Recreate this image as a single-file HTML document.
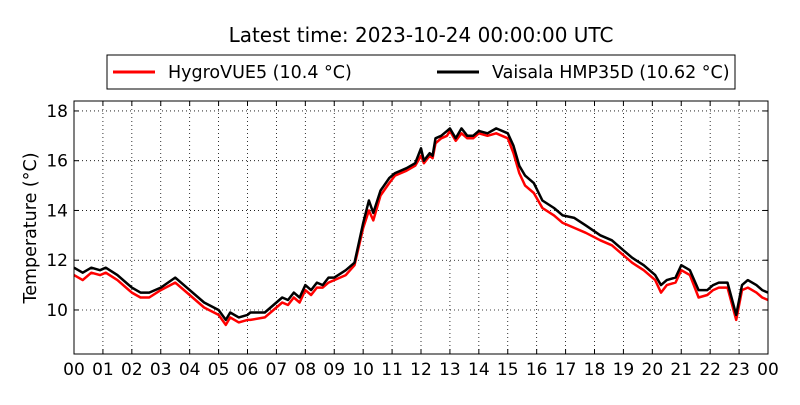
<!DOCTYPE html>
<html><head><meta charset="utf-8"><style>
body{margin:0;background:#fff;}
svg{font-family:"DejaVu Sans","Liberation Sans",sans-serif;}
</style></head><body>
<svg id="chart" width="800" height="400" viewBox="0 0 800 400" xmlns="http://www.w3.org/2000/svg">
<rect width="800" height="400" fill="#fff"/>
<text x="421" y="42" font-size="20" text-anchor="middle">Latest time: 2023-10-24 00:00:00 UTC</text>
<g>
<rect x="107" y="55" width="628" height="34" fill="#fff" stroke="#000" stroke-width="1"/>
<g>
<line x1="113" y1="72" x2="155" y2="72" stroke="#f00" stroke-width="3"/>
<text x="168" y="78" font-size="17.5">HygroVUE5 (10.4 °C)</text>
</g>
<g>
<line x1="437" y1="72" x2="479" y2="72" stroke="#000" stroke-width="3"/>
<text x="492" y="78" font-size="17.5">Vaisala HMP35D (10.62 °C)</text>
</g>
</g>
<text transform="translate(36,228) rotate(-90)" font-size="17.5" text-anchor="middle">Temperature (°C)</text>
<g id="grid"></g>
<g id="series"></g>
<rect x="74" y="101" width="694" height="253" fill="none" stroke="#000" stroke-width="1"/>
<g id="axes"></g>
</svg>
<script>
const times = [0,0.3,0.6,0.9,1.1,1.5,2.0,2.3,2.6,3.0,3.5,4.0,4.5,5.0,5.25,5.4,5.7,6.0,6.1,6.6,7.0,7.2,7.4,7.6,7.8,8.0,8.2,8.4,8.6,8.8,9.0,9.4,9.7,10.0,10.2,10.35,10.6,10.9,11.1,11.5,11.8,12.0,12.1,12.3,12.4,12.5,12.7,12.9,13.0,13.2,13.4,13.6,13.8,14.0,14.3,14.6,15.0,15.2,15.4,15.6,15.9,16.2,16.6,16.9,17.3,17.7,18.2,18.6,19.0,19.3,19.7,20.1,20.3,20.5,20.8,21.0,21.3,21.6,21.9,22.1,22.3,22.6,22.9,23.1,23.3,23.6,23.8,24.0];
const vaisala = [11.7,11.5,11.7,11.6,11.7,11.4,10.9,10.7,10.7,10.9,11.3,10.8,10.3,10.0,9.6,9.9,9.7,9.8,9.9,9.9,10.3,10.5,10.4,10.7,10.5,11.0,10.8,11.1,11.0,11.3,11.3,11.6,11.9,13.5,14.4,13.9,14.8,15.3,15.5,15.7,15.9,16.5,16.0,16.3,16.2,16.9,17.0,17.2,17.3,16.9,17.3,17.0,17.0,17.2,17.1,17.3,17.1,16.6,15.8,15.4,15.1,14.4,14.1,13.8,13.7,13.4,13.0,12.8,12.4,12.1,11.8,11.4,11.0,11.2,11.3,11.8,11.6,10.8,10.8,11.0,11.1,11.1,9.8,11.0,11.2,11.0,10.8,10.7];
const hygro = [11.4,11.2,11.5,11.4,11.5,11.2,10.7,10.5,10.5,10.8,11.1,10.6,10.1,9.8,9.4,9.7,9.5,9.6,9.6,9.7,10.1,10.3,10.2,10.5,10.3,10.8,10.6,10.9,10.9,11.1,11.2,11.4,11.8,13.3,14.0,13.6,14.6,15.1,15.4,15.6,15.8,16.2,15.9,16.2,16.1,16.7,16.9,17.0,17.2,16.8,17.1,16.9,16.9,17.1,17.0,17.1,16.9,16.3,15.5,15.0,14.7,14.1,13.8,13.5,13.3,13.1,12.8,12.6,12.2,11.9,11.6,11.2,10.7,11.0,11.1,11.6,11.4,10.5,10.6,10.8,10.9,10.9,9.6,10.8,10.9,10.7,10.5,10.4];
const yTicks = [10,12,14,16,18];
const xTickLabels = ["00","01","02","03","04","05","06","07","08","09","10","11","12","13","14","15","16","17","18","19","20","21","22","23","00"];

const X0=74,X1=768,Y0=101,Y1=354,YMIN=8.23,YMAX=18.4;
const xs = h => X0 + (h/24)*(X1-X0);
const ys = v => Y1 - (v-YMIN)/(YMAX-YMIN)*(Y1-Y0);
const NS="http://www.w3.org/2000/svg";
const grid=document.getElementById('grid'), axes=document.getElementById('axes'), series=document.getElementById('series');
function mk(tag,attrs){const e=document.createElementNS(NS,tag);for(const k in attrs)e.setAttribute(k,attrs[k]);return e;}

xTickLabels.forEach((lab,i)=>{
  const x=xs(i);
  if(i>0&&i<24){
    const g=mk('line',{x1:x,y1:Y0,x2:x,y2:Y1,stroke:'#000','stroke-width':0.8,'stroke-dasharray':'1,3'});
    
    
    grid.appendChild(g);
  }
  const t1=mk('line',{x1:x,y1:Y1,x2:x,y2:Y1-5,stroke:'#000'});
  
  
  axes.appendChild(t1);
  const t2=mk('line',{x1:x,y1:Y0,x2:x,y2:Y0+5,stroke:'#000'});
  
  
  axes.appendChild(t2);
  const tx=mk('text',{x:x,y:375,'font-size':17,'text-anchor':'middle'});
  tx.textContent=lab;
  
  
  axes.appendChild(tx);
});
yTicks.forEach(v=>{
  const y=ys(v);
  const g=mk('line',{x1:X0,y1:y,x2:X1,y2:y,stroke:'#000','stroke-width':0.8,'stroke-dasharray':'1,3'});
  
  
  grid.appendChild(g);
  const t1=mk('line',{x1:X0,y1:y,x2:X0+5,y2:y,stroke:'#000'});
  
  
  axes.appendChild(t1);
  const t2=mk('line',{x1:X1,y1:y,x2:X1-5,y2:y,stroke:'#000'});
  
  
  axes.appendChild(t2);
  const tx=mk('text',{x:X0-6,y:y+6,'font-size':17,'text-anchor':'end'});
  tx.textContent=String(v);
  
  
  axes.appendChild(tx);
});
function line(vals,color,name){
  const d=vals.map((v,i)=>(i?'L':'M')+xs(times[i]).toFixed(1)+','+ys(v).toFixed(1)).join(' ');
  const p=mk('path',{d:d,fill:'none',stroke:color,'stroke-width':2.5,'stroke-linejoin':'round'});
  
  
  series.appendChild(p);
}
line(hygro,'#f00','hygrovue5-line');
line(vaisala,'#000','vaisala-line');
</script>
</body></html>
